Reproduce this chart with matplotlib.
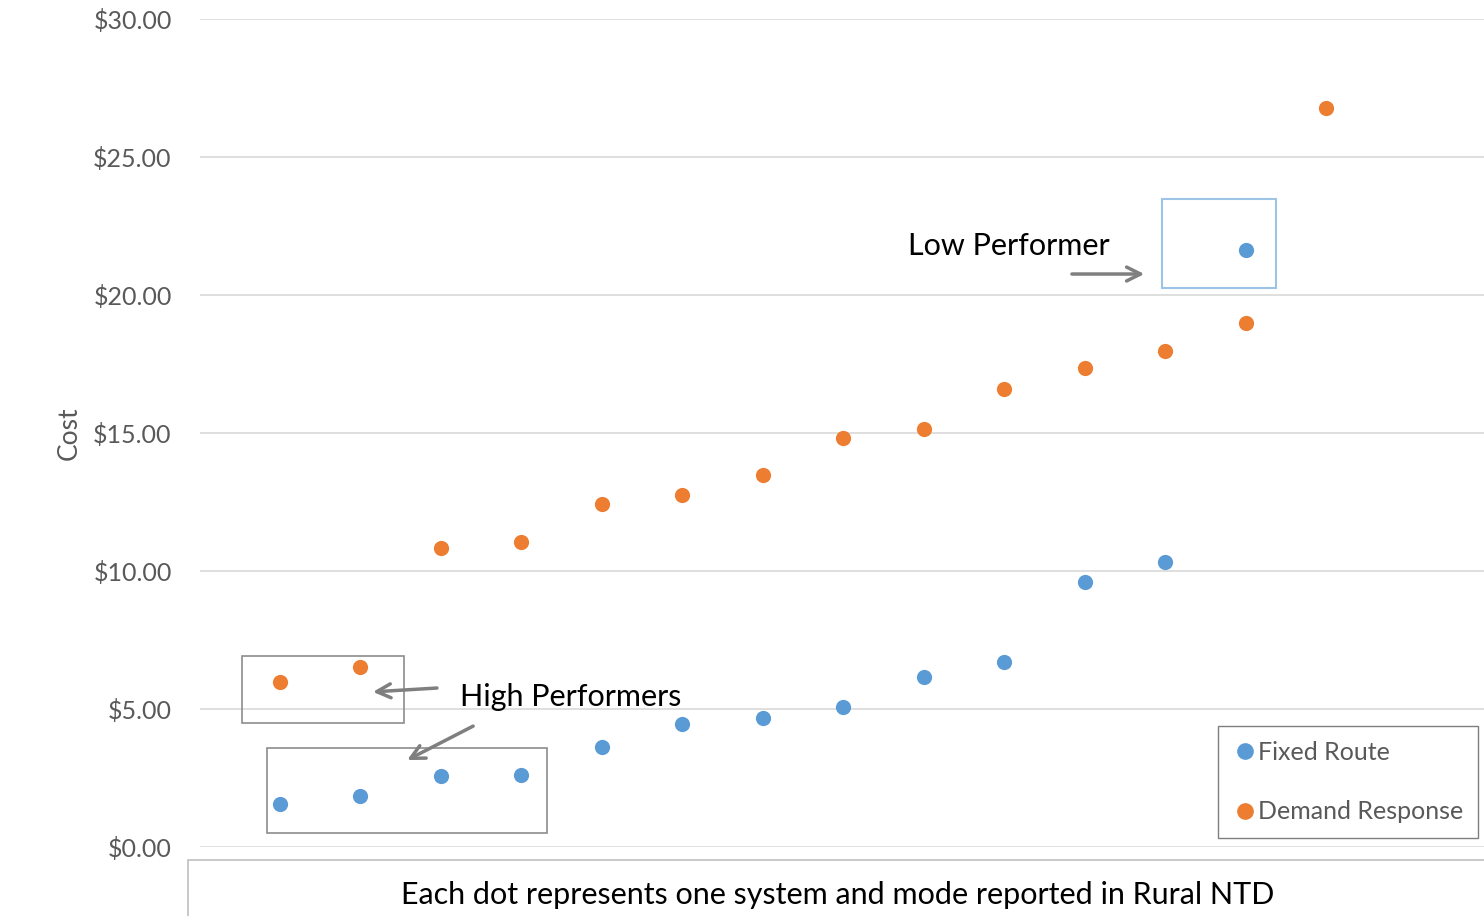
import matplotlib.pyplot as plt
from matplotlib.patches import Rectangle
from matplotlib.lines import Line2D

plt.rcParams['font.family'] = ['Lato', 'DejaVu Sans']

# Systems ordered along the x axis (one dot per system and mode)
fixed_x = [1, 2, 3, 4, 5, 6, 7, 8, 9, 10, 11, 12, 13]
fixed_cost = [1.56, 1.85, 2.57, 2.61, 3.62, 4.46, 4.67, 5.07, 6.16, 6.70, 9.60, 10.33, 21.63]

demand_x = [1, 2, 3, 4, 5, 6, 7, 8, 9, 10, 11, 12, 13, 14]
demand_cost = [5.98, 6.52, 10.83, 11.05, 12.43, 12.75, 13.48, 14.82, 15.14, 16.59, 17.36, 17.97, 18.99, 26.78]

y_ticks = [0, 5, 10, 15, 20, 25, 30]
y_tick_labels = ['$%.2f' % v for v in y_ticks]

blue = '#5B9BD5'
orange = '#ED7D31'
grey_txt = '#595959'

fig = plt.figure(figsize=(14.84, 9.16), dpi=100)
ax = fig.add_axes([199.5 / 1484, 69 / 916, 1 - 199.5 / 1484, 828 / 916])

ax.scatter(fixed_x, fixed_cost, s=120, color=blue, zorder=3, linewidths=0)
ax.scatter(demand_x, demand_cost, s=120, color=orange, zorder=3, linewidths=0)

ax.set_xlim(0, 15.96)
ax.set_ylim(0, 30)
ax.set_yticks(y_ticks)
ax.set_yticklabels(y_tick_labels, fontsize=18, color=grey_txt)
ax.set_xticks([])
ax.tick_params(axis='y', length=0, pad=20)
ax.grid(axis='y', color='#D9D9D9', lw=1.2)
ax.set_axisbelow(True)
for s in ax.spines.values():
    s.set_visible(False)
ax.set_ylabel('Cost', fontsize=19, color=grey_txt, labelpad=8)

# highlight boxes
ax.add_patch(Rectangle((0.528, 4.49), 2.01, 2.43, fill=False, ec='#8C8C8C', lw=1.2, zorder=2))
ax.add_patch(Rectangle((0.839, 0.507), 3.478, 3.08, fill=False, ec='#8C8C8C', lw=1.2, zorder=2))
ax.add_patch(Rectangle((11.96, 20.25), 1.41, 3.23, fill=False, ec='#9DC3E6', lw=1.5, zorder=2))

arrow = dict(arrowstyle='->', color='#7F7F7F', lw=2.5, mutation_scale=25, shrinkA=0, shrinkB=0)
ax.text(8.80, 21.78, 'Low Performer', fontsize=22, color='black', va='center', ha='left')
ax.annotate('', xy=(11.74, 20.76), xytext=(10.84, 20.76), arrowprops=arrow)

ax.text(3.236, 5.43, 'High Performers', fontsize=22, color='black', va='center', ha='left')
ax.annotate('', xy=(2.155, 5.62), xytext=(2.95, 5.76), arrowprops=arrow)
ax.annotate('', xy=(2.58, 3.15), xytext=(3.40, 4.38), arrowprops=arrow)

handles = [Line2D([], [], marker='o', ls='', color=blue, markersize=11, label='Fixed Route'),
           Line2D([], [], marker='o', ls='', color=orange, markersize=11, label='Demand Response')]
leg = ax.legend(handles=handles, loc='upper right', bbox_to_anchor=(1478 / 1484, 1 - 726 / 916),
                bbox_transform=fig.transFigure, borderaxespad=0, fontsize=18, frameon=True,
                fancybox=False, edgecolor='#7F7F7F', labelspacing=1.45, handletextpad=0.0,
                handlelength=1.0, borderpad=0.6, framealpha=1)
for t in leg.get_texts():
    t.set_color(grey_txt)

# footnote box at the bottom
fig.patches.append(Rectangle((188 / 1484, -0.01), 1.0, (916 - 860) / 916 + 0.01, transform=fig.transFigure,
                             fill=False, ec='#BFBFBF', lw=1.2))
fig.text(838 / 1484, 1 - 895 / 916, 'Each dot represents one system and mode reported in Rural NTD',
         fontsize=22, color='black', ha='center', va='center')

fig.savefig('out.png', dpi=100)
